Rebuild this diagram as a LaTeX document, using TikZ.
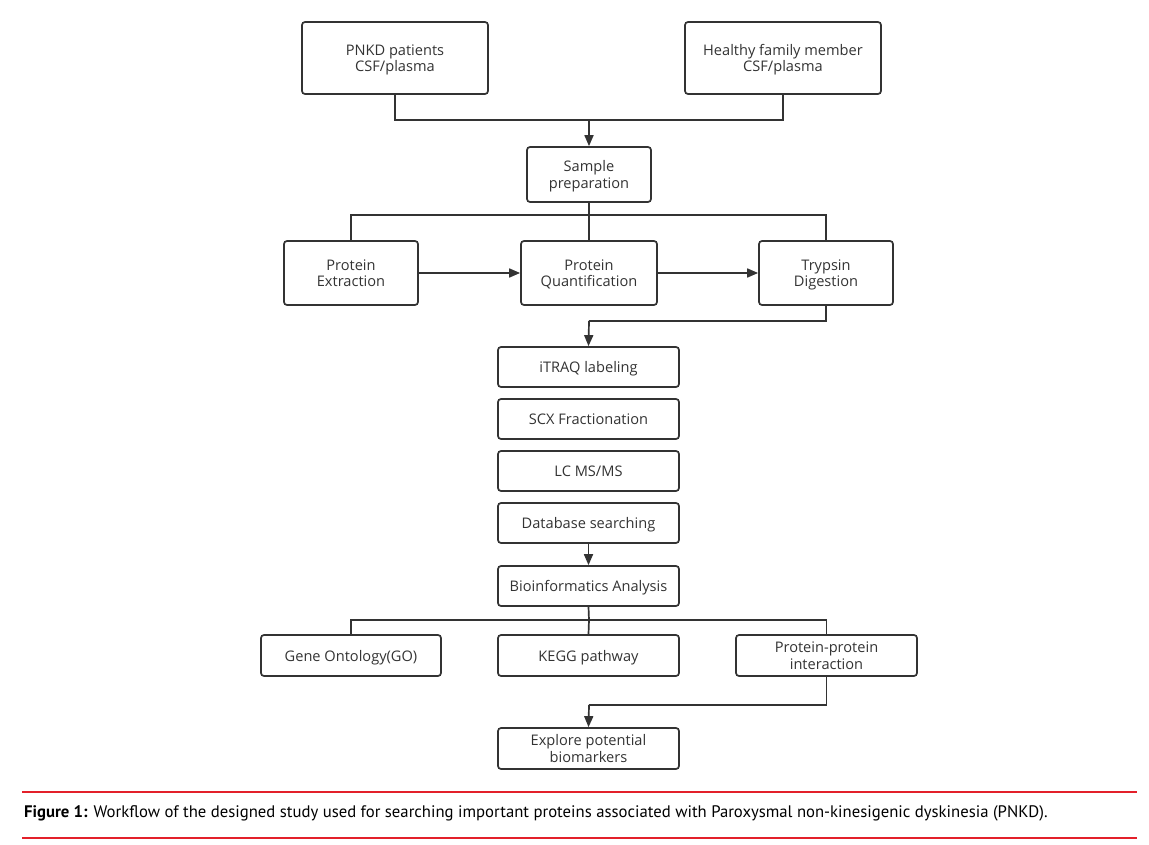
\documentclass[tikz,border=0pt]{standalone}
\usepackage{fontspec}
\setmainfont{Open Sans}
\newfontfamily\capfont{PT Sans}
\usetikzlibrary{arrows.meta}
\definecolor{ln}{HTML}{333333}
\definecolor{capred}{HTML}{E3202A}
\tikzset{
  box/.style={draw=ln, line width=1.7pt, rounded corners=3pt, align=center, inner sep=0pt,
    text depth=0pt, font=\fontsize{14.6}{16.5}\selectfont, text=ln},
  conn/.style={draw=ln, line width=1.7pt},
  arr/.style={conn, -{Triangle[length=11pt,width=9pt]}},
  redline/.style={draw=capred, line width=2.8pt},
}
\begin{document}
\begin{tikzpicture}[x=1pt,y=-1pt]
\useasboundingbox (0,0) rectangle (1149,845);
% boxes
\node[box, minimum width=186, minimum height=72] (pnkd) at (395,58) {PNKD patients\\CSF/plasma};
\node[box, minimum width=196, minimum height=72] (healthy) at (783,58) {Healthy family member\\CSF/plasma};
\node[box, minimum width=124, minimum height=55] (sample) at (589,174.5) {Sample\\preparation};
\node[box, minimum width=134, minimum height=64] (pe) at (351,273) {Protein\\Extraction};
\node[box, minimum width=136, minimum height=64] (pq) at (589,273) {Protein\\Quantification};
\node[box, minimum width=134, minimum height=64] (td) at (826,273) {Trypsin\\Digestion};
\node[box, minimum width=181, minimum height=40] (itraq) at (588.5,367) {iTRAQ labeling};
\node[box, minimum width=181, minimum height=40] (scx) at (588.5,419) {SCX Fractionation};
\node[box, minimum width=181, minimum height=40] (lc) at (588.5,471) {LC MS/MS};
\node[box, minimum width=181, minimum height=40] (db) at (588.5,523) {Database searching};
\node[box, minimum width=181, minimum height=40] (bio) at (588.5,586) {Bioinformatics Analysis};
\node[box, minimum width=180, minimum height=41] (go) at (351,655.5) {Gene Ontology(GO)};
\node[box, minimum width=181, minimum height=41] (kegg) at (588.5,655.5) {KEGG pathway};
\node[box, minimum width=181, minimum height=41] (ppi) at (826.5,655.5) {Protein-protein\\interaction};
\node[box, minimum width=181, minimum height=41] (exp) at (588.5,748.5) {Explore potential\\biomarkers};
% junctions
\coordinate (m1) at (589,120);
\coordinate (m2) at (589,215);
\coordinate (m3) at (589,321);
\coordinate (m4) at (589,620);
\coordinate (m5) at (589,705);
% connectors
\draw[conn] (pnkd.south) |- (m1) -| (healthy.south);
\draw[arr] (m1) -- (sample.north);
\draw[conn] (sample.south) -- (m2);
\draw[conn] (pe.north) |- (m2) -| (td.north);
\draw[conn] (m2) -- (pq.north);
\draw[arr] (pe.east) -- (pq.west);
\draw[arr] (pq.east) -- (td.west);
\draw[conn] (td.south) |- (m3);
\draw[arr] (m3) -- (itraq.north);
\draw[arr] (db.south) -- (bio.north);
\draw[conn] (bio.south) -- (m4);
\draw[conn] (go.north) |- (m4) -| (ppi.north);
\draw[conn] (m4) -- (kegg.north);
\draw[conn] (ppi.south) |- (m5);
\draw[arr] (m5) -- (exp.north);
% caption
\coordinate (r1a) at (22,792); \coordinate (r1b) at (1137,792);
\coordinate (r2a) at (22,838); \coordinate (r2b) at (1137,838);
\draw[redline] (r1a) -- (r1b);
\draw[redline] (r2a) -- (r2b);
\node[anchor=west, inner sep=0pt, font=\capfont\fontsize{16.7}{18}\selectfont] (cap) at (24,813)
  {\textbf{Figure 1:} Workflow of the designed study used for searching important proteins associated with Paroxysmal non-kinesigenic dyskinesia (PNKD).};
\end{tikzpicture}
\end{document}
